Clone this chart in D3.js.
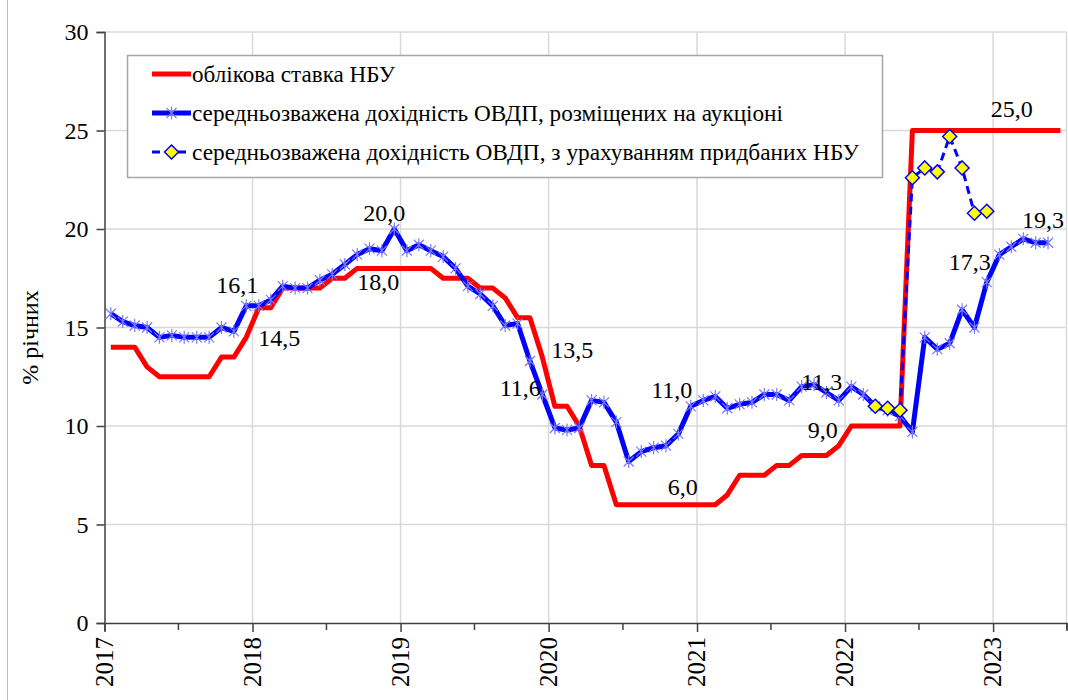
<!DOCTYPE html>
<html>
<head>
<meta charset="utf-8">
<script src="https://cdn.jsdelivr.net/npm/d3@7"></script>
</head>
<body style="margin:0">
<script>
// облікова ставка НБУ vs дохідність ОВДП, щомісячно

const width = 1068;
const height = 700;
const margin = { top: 32, right: 1.5, bottom: 77, left: 104.5 };
const serif = "Liberation Serif";

// monthly data, starting from Jan 2017
const keyRateStart = new Date(2017, 0, 1);
const keyRate = [
    14, 14, 14, 13, 12.5, 12.5, 12.5, 12.5, 12.5, 13.5, 13.5, 14.5,
    16, 16, 17, 17, 17, 17, 17.5, 17.5, 18, 18, 18, 18,
    18, 18, 18, 17.5, 17.5, 17.5, 17, 17, 16.5, 15.5, 15.5, 13.5,
    11, 11, 10, 8, 8, 6, 6, 6, 6, 6, 6, 6,
    6, 6, 6.5, 7.5, 7.5, 7.5, 8, 8, 8.5, 8.5, 8.5, 9,
    10, 10, 10, 10, 10, 25, 25, 25, 25, 25, 25, 25,
    25, 25, 25, 25, 25, 25
];

const auctionStart = new Date(2017, 0, 1);
const auctionYield = [
    15.7, 15.3, 15.1, 15.0, 14.5, 14.6, 14.5, 14.5, 14.5, 15.0, 14.8, 16.1,
    16.1, 16.4, 17.1, 17.0, 17.0, 17.4, 17.7, 18.2, 18.7, 19.0, 18.9, 20.0,
    18.9, 19.2, 18.9, 18.6, 18.0, 17.1, 16.7, 16.1, 15.1, 15.2, 13.3, 11.6,
    9.9, 9.8, 9.9, 11.3, 11.2, 10.2, 8.2, 8.7, 8.9, 9.0, 9.6, 11.0,
    11.3, 11.5, 10.9, 11.1, 11.2, 11.6, 11.6, 11.3, 12.0, 12.1, 11.7, 11.3,
    12.0, 11.6, 11.0, 10.8, 10.5, 9.7, 14.5, 13.9, 14.2, 15.9, 15.0, 17.3,
    18.7, 19.1, 19.5, 19.3, 19.3
];

const withNbuStart = new Date(2022, 2, 1);
const withNbuYield = [11.0, 10.9, 10.8, 22.6, 23.1, 22.9, 24.7, 23.1, 20.8, 20.9];

const seriesNames = [
    "облікова ставка  НБУ",
    "середньозважена  дохідність ОВДП, розміщених на аукціоні",
    "середньозважена  дохідність ОВДП, з урахуванням  придбаних НБУ"
];
const yTicks = [0, 5, 10, 15, 20, 25, 30];
const yTitle = "% річних";

// labelled points: [series, month, value shown]
const labelPoints = [
    ["auction", "2017-12", "16,1"],
    ["rate", "2017-12", "14,5"],
    ["auction", "2018-12", "20,0"],
    ["rate", "2018-12", "18,0"],
    ["rate", "2019-12", "13,5"],
    ["auction", "2019-12", "11,6"],
    ["auction", "2020-12", "11,0"],
    ["rate", "2020-12", "6,0"],
    ["auction", "2021-12", "11,3"],
    ["rate", "2021-12", "9,0"],
    ["rate", "2022-12", "25,0"],
    ["auction", "2022-12", "17,3"],
    ["auction", "2023-05", "19,3"]
];
// offset of label centre from its point
const labelOffsets = [
    [-9, -21], [33, 1], [-10, -16], [-16, 14], [30, -7], [-22, -6], [-19, -16],
    [-8, -18], [-17, -18], [-16, -16], [25, -22], [-17, -20], [-5, -23]
];

const toSeries = (start, values) => values.map((v, i) => {
    const m = d3.timeMonth.offset(start, i);
    const next = d3.timeMonth.offset(start, i + 1);
    return { month: m, date: new Date((+m + +next) / 2), value: v };
});

const rateData = toSeries(keyRateStart, keyRate);
const auctionData = toSeries(auctionStart, auctionYield);
const withNbuData = toSeries(withNbuStart, withNbuYield);

const svg = d3.select("body")
    .append("svg")
    .attr("width", width)
    .attr("height", height);

// chart area border
svg.append("line")
    .attr("x1", 7.5).attr("x2", 7.5)
    .attr("y1", 0).attr("y2", height)
    .attr("stroke", "#bfbfbf");

const x = d3.scaleTime()
    .domain([new Date(2017, 0, 1), new Date(2023, 6, 1)])
    .range([margin.left, width - margin.right]);

const y = d3.scaleLinear()
    .domain([0, 30])
    .range([height - margin.bottom, margin.top]);

// grid
svg.append("g")
    .selectAll("line")
    .data(yTicks.filter(d => d > 0))
    .join("line")
    .attr("x1", margin.left).attr("x2", width - margin.right)
    .attr("y1", d => y(d)).attr("y2", d => y(d))
    .attr("stroke", "#d9d9d9")
    .attr("stroke-width", 1.5);

const years = d3.timeYear.range(new Date(2018, 0, 1), new Date(2024, 0, 1));
svg.append("g")
    .selectAll("line")
    .data(years)
    .join("line")
    .attr("x1", d => x(d)).attr("x2", d => x(d))
    .attr("y1", margin.top).attr("y2", height - margin.bottom)
    .attr("stroke", "#d9d9d9")
    .attr("stroke-width", 1.5);

svg.append("line")
    .attr("x1", width - margin.right).attr("x2", width - margin.right)
    .attr("y1", margin.top).attr("y2", height - margin.bottom)
    .attr("stroke", "#d9d9d9")
    .attr("stroke-width", 1.5);

// axes (tick lines from d3, labels drawn as plain text)
const yAxis = svg.append("g")
    .attr("transform", `translate(${margin.left},0)`)
    .call(d3.axisLeft(y).tickValues(yTicks).tickSize(8).tickFormat(""));
yAxis.select(".domain").attr("stroke", "#404040").attr("stroke-width", 1.5);
yAxis.selectAll(".tick line").attr("stroke", "#404040").attr("stroke-width", 1.5);

svg.selectAll(".y-label")
    .data(yTicks)
    .join("text")
    .attr("class", "y-label")
    .attr("x", margin.left - 16)
    .attr("y", d => y(d) + 8)
    .attr("text-anchor", "end")
    .attr("font-family", serif)
    .attr("font-size", 24)
    .attr("fill", "#000")
    .text(d => d);

const halfYears = d3.timeMonth.every(6).range(new Date(2017, 0, 1), new Date(2023, 6, 2));
const xAxis = svg.append("g")
    .attr("transform", `translate(0,${height - margin.bottom})`)
    .call(d3.axisBottom(x).tickValues(halfYears).tickSize(8).tickFormat(""));
xAxis.select(".domain").attr("stroke", "#404040").attr("stroke-width", 1.5);
xAxis.selectAll(".tick line").attr("stroke", "#404040").attr("stroke-width", 1.5)
    .attr("y2", d => d.getMonth() === 0 ? 9 : 7);

const yearTicks = d3.timeYear.range(new Date(2017, 0, 1), new Date(2024, 0, 1));
svg.selectAll(".year-label")
    .data(yearTicks)
    .join("text")
    .attr("class", "year-label")
    .attr("transform", d => `translate(${x(d) + 8},${height - margin.bottom + 14}) rotate(-90)`)
    .attr("text-anchor", "end")
    .attr("font-family", serif)
    .attr("font-size", 25)
    .attr("fill", "#000")
    .text(d3.timeFormat("%Y"));

svg.append("text")
    .attr("transform", `translate(38,${(margin.top + height - margin.bottom) / 2 + 10}) rotate(-90)`)
    .attr("text-anchor", "middle")
    .attr("font-family", serif)
    .attr("font-size", 24)
    .text(yTitle);

// lines
const line = d3.line()
    .x(d => x(d.date))
    .y(d => y(d.value));

svg.append("path")
    .datum(rateData)
    .attr("d", line)
    .attr("fill", "none")
    .attr("stroke", "#ff0000")
    .attr("stroke-width", 5)
    .attr("stroke-linejoin", "round");

svg.append("path")
    .datum(auctionData)
    .attr("d", line)
    .attr("fill", "none")
    .attr("stroke", "#0000ff")
    .attr("stroke-width", 5)
    .attr("stroke-linejoin", "round");

const star = "M-5,-5L5,5M-5,5L5,-5M0,-6.5L0,6.5";
svg.append("g")
    .selectAll("path")
    .data(auctionData)
    .join("path")
    .attr("transform", d => `translate(${x(d.date)},${y(d.value)})`)
    .attr("d", star)
    .attr("stroke", "#7878ff")
    .attr("stroke-width", 1.2)
    .attr("fill", "none");

svg.append("path")
    .datum(withNbuData)
    .attr("d", line)
    .attr("fill", "none")
    .attr("stroke", "#0000ff")
    .attr("stroke-width", 3)
    .attr("stroke-dasharray", "8,5");

const diamond = "M0,-7L7,0L0,7L-7,0Z";
svg.append("g")
    .selectAll("path")
    .data(withNbuData)
    .join("path")
    .attr("transform", d => `translate(${x(d.date)},${y(d.value)})`)
    .attr("d", diamond)
    .attr("fill", "#ffff00")
    .attr("stroke", "#0000ff")
    .attr("stroke-width", 1.5);

// data labels
const lookup = { rate: rateData, auction: auctionData };
const findPoint = d => lookup[d[0]].find(p => d3.timeFormat("%Y-%m")(p.month) === d[1]);
svg.selectAll(".data-label")
    .data(labelPoints)
    .join("text")
    .attr("class", "data-label")
    .attr("x", (d, i) => x(findPoint(d).date) + labelOffsets[i][0])
    .attr("y", (d, i) => y(findPoint(d).value) + labelOffsets[i][1] + 8)
    .attr("text-anchor", "middle")
    .attr("font-family", serif)
    .attr("font-size", 24)
    .attr("fill", "#000")
    .text(d => d[2]);

// legend
svg.append("rect")
    .attr("x", 127.5).attr("y", 55.5)
    .attr("width", 755).attr("height", 122)
    .attr("fill", "#fff")
    .attr("stroke", "#a6a6a6")
    .attr("stroke-width", 1.5);

const legendY = [74, 113, 152];
const legendEnds = [395, 783, 859];
const legendStyles = [
    { color: "#ff0000", width: 5, dash: null, marker: null },
    { color: "#0000ff", width: 5, dash: null, marker: "star" },
    { color: "#0000ff", width: 3, dash: "8,5", marker: "diamond" }
];

seriesNames.forEach((name, i) => {
    const s = legendStyles[i];
    svg.append("line")
        .attr("x1", 152).attr("x2", 191)
        .attr("y1", legendY[i]).attr("y2", legendY[i])
        .attr("stroke", s.color)
        .attr("stroke-width", s.width)
        .attr("stroke-dasharray", s.dash);
    if (s.marker === "star") {
        svg.append("path")
            .attr("transform", `translate(171.5,${legendY[i]})`)
            .attr("d", star)
            .attr("stroke", "#7878ff")
            .attr("stroke-width", 1.2);
    } else if (s.marker === "diamond") {
        svg.append("path")
            .attr("transform", `translate(171.5,${legendY[i]})`)
            .attr("d", diamond)
            .attr("fill", "#ffff00")
            .attr("stroke", "#0000ff")
            .attr("stroke-width", 1.5);
    }
    svg.append("text")
        .attr("x", 192)
        .attr("y", legendY[i] + 8)
        .attr("font-family", serif)
        .attr("font-size", 23)
        .attr("textLength", legendEnds[i] - 192)
        .attr("lengthAdjust", "spacingAndGlyphs")
        .text(name);
});
</script>
</body>
</html>
